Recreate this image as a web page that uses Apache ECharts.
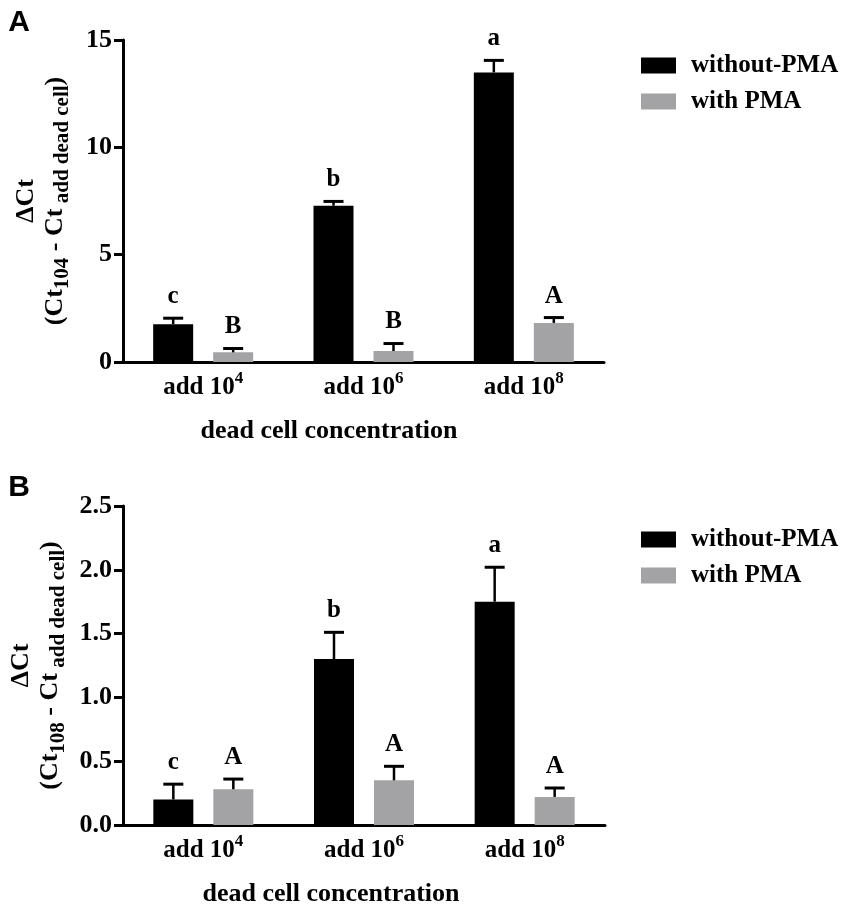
<!doctype html>
<html lang="en">
<head>
<meta charset="UTF-8">
<title>dead cell concentration</title>
<script src="https://cdn.jsdelivr.net/npm/echarts@6/dist/echarts.min.js"></script>
<style>
  html, body { margin: 0; padding: 0; background: #fff; }
  #main { width: 849px; height: 912px; }
</style>
</head>
<body>
<div id="main"></div>
<script>
// data
var categories = ['add 10^4', 'add 10^6', 'add 10^8'];
var seriesNames = ['without-PMA', 'with PMA'];

// panel A
var aWithout = [1.76, 7.28, 13.49];
var aWithoutErr = [0.28, 0.20, 0.56];
var aWith = [0.45, 0.51, 1.82];
var aWithErr = [0.18, 0.35, 0.25];
var aWithoutLetters = ['c', 'b', 'a'];
var aWithLetters = ['B', 'B', 'A'];

// panel B
var bWithout = [0.20, 1.30, 1.75];
var bWithoutErr = [0.12, 0.21, 0.27];
var bWith = [0.28, 0.35, 0.22];
var bWithErr = [0.08, 0.11, 0.07];
var bWithoutLetters = ['c', 'b', 'a'];
var bWithLetters = ['A', 'A', 'A'];

var SERIF = '"Liberation Serif", "Times New Roman", serif';
var BLACK = '#000000';
var GREY = '#a3a3a6';
var BAR_W = 40;
var BAR_GAP = 20;
var SHIFT = (BAR_W + BAR_GAP) / 2;

var myChart = echarts.init(document.getElementById('main'));

function errSeries(grid, vals, errs, letters, side) {
    return {
        type: 'custom',
        xAxisIndex: grid,
        yAxisIndex: grid,
        z: 5,
        silent: true,
        encode: { x: 0, y: 1 },
        data: vals.map(function (v, i) { return [i, v, errs[i]]; }),
        renderItem: function (params, api) {
            var c = api.value(0), v = api.value(1), e = api.value(2);
            var base = api.coord([c, v]);
            var top = api.coord([c, v + e]);
            var cx = base[0] + side * SHIFT;
            return {
                type: 'group',
                children: [
                    { type: 'line', shape: { x1: cx, y1: base[1], x2: cx, y2: top[1] },
                      style: { stroke: BLACK, lineWidth: 2.5 } },
                    { type: 'line', shape: { x1: cx - 10, y1: top[1], x2: cx + 10, y2: top[1] },
                      style: { stroke: BLACK, lineWidth: 3 } },
                    { type: 'text', x: cx, y: top[1] - 9,
                      style: { text: letters[params.dataIndex], textAlign: 'center', textVerticalAlign: 'bottom',
                               font: 'bold 25px ' + SERIF, fill: BLACK } }
                ]
            };
        }
    };
}

function barSeries(grid, name, vals, color) {
    return {
        name: name,
        type: 'bar',
        xAxisIndex: grid,
        yAxisIndex: grid,
        barWidth: BAR_W,
        barGap: '50%',
        itemStyle: { color: color },
        data: vals
    };
}

function xAxisFor(grid) {
    return {
        type: 'category',
        gridIndex: grid,
        data: categories,
        axisLine: { lineStyle: { color: BLACK, width: 3 } },
        axisTick: { alignWithLabel: true, length: 9, lineStyle: { color: BLACK, width: 3 } },
        axisLabel: {
            margin: 8,
            formatter: function (v) {
                var p = v.split('^');
                return '{n|' + p[0] + '}{s|' + p[1] + '}';
            },
            rich: {
                n: { fontFamily: SERIF, fontWeight: 'bold', fontSize: 25, color: BLACK, lineHeight: 36 },
                s: { fontFamily: SERIF, fontWeight: 'bold', fontSize: 17, color: BLACK, lineHeight: 17, verticalAlign: 'top' }
            }
        }
    };
}

function yAxisFor(grid, max, step, digits, sub) {
    return {
        type: 'value',
        gridIndex: grid,
        min: 0,
        max: max,
        interval: step,
        splitLine: { show: false },
        axisLine: { show: true, lineStyle: { color: BLACK, width: 3 } },
        axisTick: { show: true, length: 9, lineStyle: { color: BLACK, width: 3 } },
        axisLabel: {
            margin: 11,
            fontFamily: SERIF, fontWeight: 'bold', fontSize: 26, color: BLACK,
            formatter: function (v) { return v.toFixed(digits); }
        },
        name: '{d|\u0394Ct}\n{m|(Ct}{sb|' + sub + '}{m| - Ct}{sb| add dead cell}{m|)}',
        nameLocation: 'middle',
        nameRotate: 90,
        nameGap: 50,
        nameTextStyle: {
            rich: {
                d: { fontFamily: SERIF, fontWeight: 'bold', fontSize: 26, color: BLACK, lineHeight: 22 },
                m: { fontFamily: SERIF, fontWeight: 'bold', fontSize: 26, color: BLACK, lineHeight: 36 },
                sb: { fontFamily: SERIF, fontWeight: 'bold', fontSize: 21, color: BLACK, lineHeight: 21, verticalAlign: 'bottom' }
            }
        }
    };
}

function legendFor(top) {
    return {
        orient: 'vertical',
        left: 636,
        top: top,
        icon: 'rect',
        itemWidth: 35,
        itemHeight: 16,
        itemGap: 11,
        data: seriesNames,
        textStyle: { fontFamily: SERIF, fontWeight: 'bold', fontSize: 25, color: BLACK, padding: [0, 0, 0, 10] }
    };
}

function text(str, x, y, font) {
    return { type: 'text', x: x, y: y,
             style: { text: str, textAlign: 'center', textVerticalAlign: 'middle', font: font, fill: BLACK } };
}

var option = {
    animation: false,
    backgroundColor: '#ffffff',
    grid: [
        { left: 123, top: 40, width: 481, height: 322 },
        { left: 123, top: 506, width: 482, height: 319 }
    ],
    xAxis: [xAxisFor(0), xAxisFor(1)],
    yAxis: [yAxisFor(0, 15, 5, 0, '104'), yAxisFor(1, 2.5, 0.5, 1, '108')],
    legend: [legendFor(48), legendFor(522)],
    graphic: [
        text('A', 19, 23, 'bold 30px "Liberation Sans", Arial, sans-serif'),
        text('B', 19, 488, 'bold 30px "Liberation Sans", Arial, sans-serif'),
        text('dead cell concentration', 329, 431, 'bold 26px ' + SERIF),
        text('dead cell concentration', 331, 894, 'bold 26px ' + SERIF)
    ],
    series: [
        barSeries(0, seriesNames[0], aWithout, BLACK),
        barSeries(0, seriesNames[1], aWith, GREY),
        barSeries(1, seriesNames[0], bWithout, BLACK),
        barSeries(1, seriesNames[1], bWith, GREY),
        errSeries(0, aWithout, aWithoutErr, aWithoutLetters, -1),
        errSeries(0, aWith, aWithErr, aWithLetters, 1),
        errSeries(1, bWithout, bWithoutErr, bWithoutLetters, -1),
        errSeries(1, bWith, bWithErr, bWithLetters, 1)
    ]
};

myChart.setOption(option);
</script>
</body>
</html>
